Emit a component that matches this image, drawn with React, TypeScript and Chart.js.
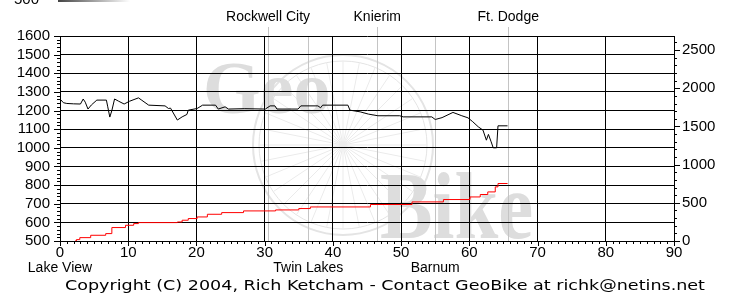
import { useEffect, useRef } from 'react';
import { Chart, registerables } from 'chart.js';

Chart.register(...registerables);

// Elevation profile (miles, feet) – left axis
const elevMiles = [0, 0.5, 1, 2, 3, 3.4, 3.7, 4.1, 4.6, 5.4, 6.8, 7.0, 7.3, 7.6, 8.0, 8.6, 9.4, 10.2, 11.5, 12.0, 13, 15.4, 15.9, 16.2, 17.2, 17.9, 18.6, 18.8, 20.1, 20.9, 22.8, 23.2, 24.2, 24.7, 27, 30.1, 30.8, 31.5, 31.8, 34.9, 35.3, 37.8, 38.2, 38.5, 42.2, 42.5, 44, 45.2, 46.6, 49.8, 50.3, 54.5, 55, 56, 57.6, 58.9, 59.8, 60.5, 61.3, 62, 62.5, 62.8, 63.2, 63.5, 64, 64.2, 65.6];
const elevFeet = [1262, 1242, 1238, 1236, 1235, 1262, 1245, 1208, 1230, 1256, 1256, 1220, 1165, 1200, 1262, 1250, 1235, 1250, 1268, 1255, 1229, 1225, 1211, 1213, 1149, 1166, 1179, 1202, 1211, 1229, 1229, 1208, 1220, 1208, 1210, 1208, 1225, 1225, 1208, 1208, 1225, 1225, 1215, 1229, 1229, 1202, 1193, 1181, 1172, 1172, 1166, 1166, 1152, 1162, 1190, 1172, 1161, 1140, 1113, 1095, 1041, 1072, 1032, 1000, 1000, 1118, 1118];

// Cumulative climb (miles, feet) – right axis
const climbMiles = [2.2, 2.4, 2.9, 4.5, 6.7, 7.6, 9.6, 10.8, 11.5, 17.2, 17.9, 18.8, 20.1, 21.6, 23.7, 26.9, 31.6, 35, 36.7, 45.5, 51.6, 56.2, 60.1, 61.6, 62.7, 63.8, 64.2, 65.6];
const climbFeet = [0, 18, 44, 75, 97, 176, 206, 228, 241, 249, 272, 294, 315, 350, 372, 394, 407, 425, 446, 478, 512, 543, 577, 609, 643, 709, 753, 753];

const xTicks = [0, 10, 20, 30, 40, 50, 60, 70, 80, 90];
const leftTicks = [500, 600, 700, 800, 900, 1000, 1100, 1200, 1300, 1400, 1500, 1600];
const rightTicks = [0, 500, 1000, 1500, 2000, 2500];

const topTowns = ['Rockwell City', 'Knierim', 'Ft. Dodge'];
const topTownMiles = [30.5, 46.5, 65.7];
const bottomTowns = ['Lake View', 'Twin Lakes', 'Barnum'];
const bottomTownMiles = [0, 36.4, 55];

const copyright = 'Copyright (C) 2004, Rich Ketcham - Contact GeoBike at richk@netins.net';

const X_MIN = 0, X_MAX = 90;
const L_MIN = 500, L_MAX = 1600;
const R_MIN = 0, R_MAX = 2685;

const decorPlugin = {
  id: 'decor',
  beforeDraw(chart: any) {
    const { ctx, chartArea, scales } = chart;
    ctx.save();
    // watermark wheel
    const cx = 343, cy = 145, r = 90;
    ctx.strokeStyle = '#e4e4e4';
    ctx.lineWidth = 2;
    ctx.beginPath();
    ctx.arc(cx, cy, r, 0, Math.PI * 2);
    ctx.stroke();
    ctx.lineWidth = 1;
    ctx.beginPath();
    ctx.arc(cx, cy, r - 6, 0, Math.PI * 2);
    ctx.stroke();
    ctx.strokeStyle = '#ebebeb';
    for (let i = 0; i < 32; i++) {
      const a = (i / 32) * Math.PI * 2;
      ctx.beginPath();
      ctx.moveTo(cx, cy);
      ctx.lineTo(cx + Math.cos(a) * (r - 6), cy + Math.sin(a) * (r - 6));
      ctx.stroke();
    }
    ctx.fillStyle = '#dddddd';
    ctx.textBaseline = 'alphabetic';
    ctx.textAlign = 'left';
    ctx.font = 'bold 74px "Liberation Serif"';
    ctx.fillText('Geo', 203, 113);
    ctx.save();
    ctx.translate(380, 238);
    ctx.scale(0.82, 1);
    ctx.font = 'bold 96px "Liberation Serif"';
    ctx.fillText('Bike', 0, 0);
    ctx.restore();

    // town lines
    const xs = scales.x;
    ctx.strokeStyle = '#c4c4c4';
    ctx.lineWidth = 1;
    topTownMiles.forEach((m) => {
      const px = Math.round(xs.getPixelForValue(m)) + 0.5;
      ctx.beginPath();
      ctx.moveTo(px, 27);
      ctx.lineTo(px, chartArea.bottom);
      ctx.stroke();
    });
    bottomTownMiles.forEach((m) => {
      if (m === 0) return;
      const px = Math.round(xs.getPixelForValue(m)) + 0.5;
      ctx.beginPath();
      ctx.moveTo(px, chartArea.top);
      ctx.lineTo(px, chartArea.bottom);
      ctx.stroke();
    });
    ctx.restore();
  },
  afterDraw(chart: any) {
    const { ctx, chartArea, scales } = chart;
    ctx.save();
    ctx.strokeStyle = '#000';
    ctx.lineWidth = 1;
    // x ticks
    for (let v = X_MIN; v <= X_MAX; v += 1) {
      const px = Math.round(scales.x.getPixelForValue(v)) + 0.5;
      const len = v % 10 === 0 ? 5 : 3;
      ctx.beginPath();
      ctx.moveTo(px, chartArea.bottom);
      ctx.lineTo(px, chartArea.bottom + len);
      ctx.stroke();
    }
    // left ticks
    for (let v = L_MIN; v <= L_MAX; v += 20) {
      const py = Math.round(scales.y.getPixelForValue(v)) + 0.5;
      const len = v % 100 === 0 ? 6 : 3;
      ctx.beginPath();
      ctx.moveTo(chartArea.left - len, py);
      ctx.lineTo(chartArea.left, py);
      ctx.stroke();
    }
    // right ticks
    for (let v = R_MIN; v <= 2600; v += 100) {
      const py = Math.round(scales.y2.getPixelForValue(v)) + 0.5;
      const len = v % 500 === 0 ? 6 : 3;
      ctx.beginPath();
      ctx.moveTo(chartArea.right, py);
      ctx.lineTo(chartArea.right + len, py);
      ctx.stroke();
    }
    // town labels
    ctx.fillStyle = '#000';
    ctx.font = '14px "Liberation Sans"';
    ctx.textAlign = 'center';
    ctx.textBaseline = 'middle';
    topTowns.forEach((t, i) => {
      ctx.fillText(t, scales.x.getPixelForValue(topTownMiles[i]), 17);
    });
    bottomTowns.forEach((t, i) => {
      ctx.fillText(t, scales.x.getPixelForValue(bottomTownMiles[i]), 268);
    });
    // copyright
    ctx.font = '14px "DejaVu Sans"';
    const w = ctx.measureText(copyright).width;
    ctx.save();
    ctx.translate(385, 286);
    ctx.scale(640 / w, 1);
    ctx.fillText(copyright, 0, 0);
    ctx.restore();
    // remnant of previous chart at the top edge
    ctx.font = '15px "Liberation Sans"';
    ctx.textAlign = 'left';
    ctx.textBaseline = 'alphabetic';
    ctx.fillText('500', 14, 4);
    const g = ctx.createLinearGradient(58, 0, 130, 0);
    g.addColorStop(0, '#444');
    g.addColorStop(1, '#fff');
    ctx.fillStyle = g;
    ctx.fillRect(58, 0, 72, 2);
    ctx.restore();
  },
};

const plain = (v: any) => String(v);

export default function App() {
  const ref = useRef<HTMLCanvasElement>(null);
  useEffect(() => {
    document.body.style.margin = '0';
    if (!ref.current) return;
    Chart.defaults.font.family = '"Liberation Sans", Arial, sans-serif';
    const chart = new Chart(ref.current, {
      type: 'line',
      data: {
        datasets: [
          {
            label: 'Elevation',
            data: elevMiles.map((m, i) => ({ x: m, y: elevFeet[i] })),
            borderColor: '#000',
            borderWidth: 1,
            pointRadius: 0,
            yAxisID: 'y',
            fill: false,
            tension: 0,
          },
          {
            label: 'Climb',
            data: climbMiles.map((m, i) => ({ x: m, y: climbFeet[i] })),
            borderColor: '#ff0000',
            borderWidth: 1,
            pointRadius: 0,
            yAxisID: 'y2',
            fill: false,
            stepped: true,
          },
        ],
      },
      options: {
        animation: false,
        responsive: false,
        events: [],
        layout: { padding: { top: 36, left: 0, right: 0, bottom: 0 } },
        plugins: { legend: { display: false }, tooltip: { enabled: false } },
        scales: {
          x: {
            type: 'linear',
            min: X_MIN,
            max: X_MAX,
            afterBuildTicks: (s: any) => { s.ticks = xTicks.map((v) => ({ value: v })); },
            ticks: { color: '#000', font: { size: 15 }, padding: 3, maxRotation: 0, autoSkip: false, callback: plain },
            grid: { color: '#000', lineWidth: 1, drawTicks: false },
            border: { display: true, color: '#000', width: 1 },
            afterFit: (s: any) => { s.height = 55; },
          },
          y: {
            type: 'linear',
            position: 'left',
            min: L_MIN,
            max: L_MAX,
            afterBuildTicks: (s: any) => { s.ticks = leftTicks.map((v) => ({ value: v })); },
            ticks: { color: '#000', font: { size: 15 }, padding: 10, autoSkip: false, callback: plain },
            grid: { color: '#000', lineWidth: 1, drawTicks: false },
            border: { display: true, color: '#000', width: 1 },
            afterFit: (s: any) => { s.width = 60; },
          },
          y2: {
            type: 'linear',
            position: 'right',
            min: R_MIN,
            max: R_MAX,
            afterBuildTicks: (s: any) => { s.ticks = rightTicks.map((v) => ({ value: v })); },
            ticks: { color: '#000', font: { size: 15 }, padding: 8, autoSkip: false, callback: plain },
            grid: { display: false, drawTicks: false },
            border: { display: true, color: '#000', width: 1 },
            afterFit: (s: any) => { s.width = 60; },
          },
        },
      },
      plugins: [decorPlugin],
    });
    return () => chart.destroy();
  }, []);
  return (
    <div style={{ width: 734, height: 296 }}>
      <canvas ref={ref} width={734} height={296} />
    </div>
  );
}
